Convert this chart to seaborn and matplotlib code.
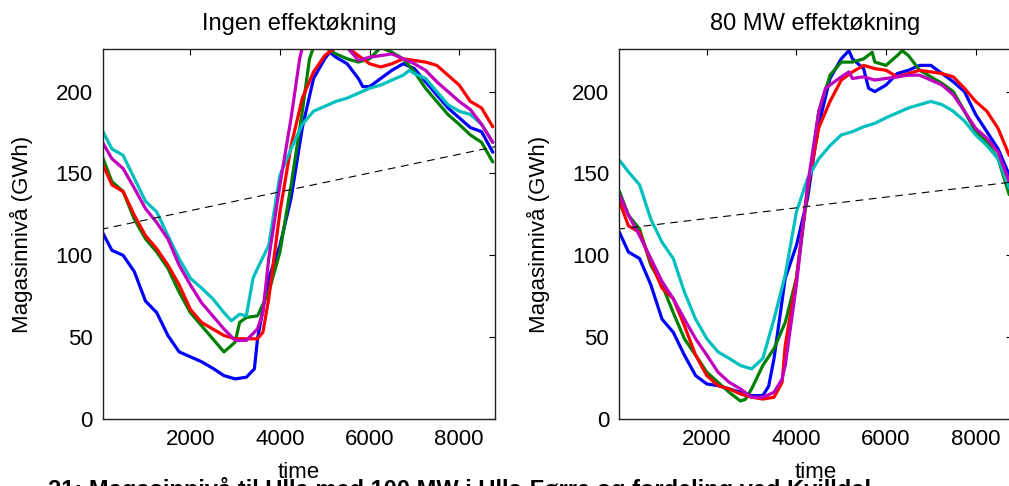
import matplotlib
matplotlib.use("Agg")
import matplotlib.pyplot as plt
import seaborn as sns
import numpy as np
import pandas as pd

# ---------------- data ----------------
titles = ["Ingen effektøkning", "80 MW effektøkning"]
xticks = [2000, 4000, 6000, 8000]
yticks = [0, 50, 100, 150, 200]
series_names = ["blue", "green", "red", "cyan", "magenta"]
series_colors = [(0, 0, 1), (0, 0.5, 0), (1, 0, 0), (0, 0.75, 0.75), (0.75, 0, 0.75)]

# Left panel: Ingen effektøkning
L_blue_t = [40, 250, 500, 750, 1000, 1250, 1500, 1750, 2000, 2250, 2500, 2750, 3000, 3250, 3430, 3500, 3750, 4000, 4250, 4500, 4750, 5000, 5110, 5250, 5500, 5750, 5850, 6000, 6250, 6500, 6750, 7000, 7250, 7500, 7750, 8000, 8250, 8500, 8750]
L_blue_v = [114, 103, 100, 90, 72, 65, 51, 41, 38, 35, 31, 26.5, 24.5, 25.5, 30.6, 49, 86, 106, 135, 178, 208, 220, 224, 221, 217, 208, 203, 203, 208, 213, 217, 214, 206, 198, 190, 184, 178, 175.5, 163]

L_green_t = [40, 250, 500, 750, 1000, 1250, 1500, 1750, 2000, 2250, 2500, 2750, 2880, 3000, 3100, 3250, 3500, 3750, 4000, 4250, 4500, 4660, 4750, 5000, 5250, 5500, 5750, 6000, 6250, 6500, 6750, 7000, 7250, 7500, 7750, 8000, 8250, 8500, 8750]
L_green_v = [160, 145, 139, 122, 110, 102, 92, 77.5, 65, 57, 49, 41, 44, 47, 59, 62, 63, 77.5, 102, 143, 188, 220, 227, 227, 223, 220, 218, 220, 227, 224, 220, 212, 202, 194, 186, 180, 173.5, 169, 157]

L_red_t = [40, 250, 500, 750, 1000, 1250, 1500, 1750, 2000, 2250, 2500, 2750, 3000, 3250, 3500, 3620, 3750, 4000, 4250, 4500, 4750, 5000, 5250, 5500, 5750, 6000, 6250, 6500, 6750, 7000, 7250, 7500, 7750, 8000, 8250, 8500, 8750]
L_red_v = [156, 143, 139, 124.5, 112, 104, 94, 82, 67, 59, 55, 51, 49, 49, 49, 53, 73.5, 126.5, 167, 196, 212, 222, 227, 227, 222, 217, 215, 217, 220, 219, 218, 216, 210, 204, 194, 190, 178.5]

L_cyan_t = [40, 250, 500, 750, 1000, 1250, 1500, 1750, 2000, 2250, 2500, 2750, 2915, 3100, 3250, 3400, 3500, 3750, 4000, 4250, 4500, 4750, 5000, 5250, 5500, 5750, 6000, 6250, 6500, 6750, 6890, 7000, 7250, 7500, 7750, 8000, 8250, 8500, 8750]
L_cyan_v = [176, 165, 161, 147, 133, 126.5, 112, 98, 86, 80, 73.5, 65, 60, 64, 63, 86, 92, 106, 149, 165, 180, 188, 191, 194, 196, 199, 202, 204, 207, 210, 213, 211, 208, 200, 192, 188, 186, 180, 169]

L_mag_t = [40, 250, 500, 750, 1000, 1250, 1500, 1750, 2000, 2250, 2500, 2750, 3000, 3250, 3500, 3620, 3750, 4000, 4250, 4440, 4500, 4750, 5000, 5250, 5500, 5750, 6000, 6250, 6500, 6750, 7000, 7250, 7500, 7750, 8000, 8250, 8500, 8750]
L_mag_v = [169, 159, 153, 141, 128.5, 120, 110, 94, 82, 71, 63, 55, 48, 48, 55, 65, 98, 143, 184, 220, 227, 227, 227, 227, 227, 219, 221, 222, 223, 220, 217, 213, 206, 200, 194, 189, 180, 169]

# Right panel: 80 MW effektøkning
R_blue_t = [50, 250, 500, 750, 1000, 1250, 1500, 1750, 2000, 2250, 2500, 2750, 3000, 3250, 3380, 3500, 3750, 4000, 4250, 4420, 4500, 4750, 5000, 5170, 5250, 5500, 5610, 5750, 6000, 6250, 6500, 6750, 7000, 7250, 7500, 7750, 8000, 8250, 8500, 8750]
R_blue_v = [114, 102, 98, 82, 61, 53, 39, 26.5, 21.4, 20.4, 18.4, 16.3, 14.3, 14.3, 20, 37, 86, 106, 135, 167, 180, 208, 220, 225, 220, 214, 202, 200, 204, 211, 213, 216, 216, 211, 206, 200, 186, 175.5, 165, 149]

R_green_t = [50, 250, 500, 750, 1000, 1250, 1500, 1750, 2000, 2250, 2500, 2750, 2860, 3000, 3250, 3500, 3750, 4000, 4250, 4500, 4750, 5000, 5250, 5500, 5690, 5750, 6000, 6250, 6360, 6500, 6750, 7000, 7250, 7500, 7750, 8000, 8250, 8500, 8750]
R_green_v = [139, 124.5, 116, 94, 82, 65, 49, 39, 28.6, 22.4, 16.3, 11, 12, 18.4, 32.7, 43, 59, 86, 139, 188, 210, 218, 218, 220, 224, 218, 216, 222, 225, 222, 213, 209, 205, 200, 188, 175.5, 169, 159, 137]

R_red_t = [50, 250, 500, 750, 1000, 1250, 1500, 1750, 2000, 2250, 2500, 2750, 3000, 3250, 3500, 3680, 3750, 4000, 4250, 4500, 4750, 5000, 5250, 5500, 5750, 6000, 6250, 6500, 6750, 7000, 7250, 7500, 7750, 8000, 8250, 8500, 8750]
R_red_v = [133, 118, 114, 96, 80, 73.5, 57, 39, 26.5, 20.4, 18.4, 15.3, 13.3, 12.2, 13.3, 22.4, 45, 86, 141, 178, 194, 207, 212, 216, 214, 213, 209, 211, 213, 212, 211, 209, 202, 194, 188, 177.5, 161]

R_cyan_t = [50, 250, 500, 750, 1000, 1250, 1500, 1750, 2000, 2250, 2500, 2750, 3000, 3250, 3500, 3750, 4000, 4250, 4500, 4750, 5000, 5250, 5500, 5750, 6000, 6250, 6500, 6750, 7000, 7250, 7500, 7750, 8000, 8250, 8500, 8750]
R_cyan_v = [158, 151, 143, 122, 108, 98, 77.5, 61, 49, 41, 37, 32.7, 30.6, 37, 61, 88, 126.5, 147, 159, 167, 173.5, 175.5, 178.5, 180.6, 184, 187, 190, 192, 194, 192, 188, 182, 173.5, 167, 159, 141]

R_mag_t = [50, 250, 500, 750, 1000, 1250, 1500, 1750, 2000, 2250, 2500, 2750, 3000, 3250, 3500, 3680, 3750, 4000, 4250, 4500, 4650, 4750, 5000, 5170, 5250, 5500, 5750, 6000, 6250, 6500, 6750, 7000, 7250, 7500, 7750, 8000, 8250, 8500, 8750]
R_mag_v = [137, 124.5, 112, 98, 84, 73.5, 61, 49, 39, 28.6, 22.4, 18.4, 13.3, 13.3, 16.3, 24.5, 32.7, 82, 143, 188, 202, 204, 209, 212, 208, 209, 207, 208, 209, 210, 210, 207, 204, 198, 188, 177.5, 171.5, 163, 145]

# Dashed reference lines (endpoints)
ref_t = [0, 8800]
L_ref_v = [115.8, 166.3]
R_ref_v = [115.9, 144.7]

caption = "21: Magasinnivå til Ulla med 100 MW i Ulla-Førre og fordeling ved Kvilldal"

# ---------------- plotting ----------------
sns.set_style("white")
plt.rcParams["font.family"] = ["Liberation Sans", "DejaVu Sans"]
plt.rcParams["text.color"] = "black"
plt.rcParams["axes.labelcolor"] = "black"
plt.rcParams["axes.titlecolor"] = "black"

fig = plt.figure(figsize=(10.09, 4.86), dpi=100)
W, H = 1009.0, 486.0
ax_left = fig.add_axes([102.5 / W, (H - 419) / H, 392.5 / W, 370 / H])
ax_right = fig.add_axes([619 / W, (H - 419) / H, 392.5 / W, 370 / H])

panels = [
    (ax_left, [(L_blue_t, L_blue_v), (L_green_t, L_green_v), (L_red_t, L_red_v),
               (L_cyan_t, L_cyan_v), (L_mag_t, L_mag_v)], L_ref_v),
    (ax_right, [(R_blue_t, R_blue_v), (R_green_t, R_green_v), (R_red_t, R_red_v),
                (R_cyan_t, R_cyan_v), (R_mag_t, R_mag_v)], R_ref_v),
]

for (ax, series, refv), title in zip(panels, titles):
    for (t, v), name, col in zip(series, series_names, series_colors):
        df = pd.DataFrame({"time": t, "val": v})
        sns.lineplot(data=df, x="time", y="val", ax=ax, color=col, linewidth=2.3,
                     estimator=None, sort=False)
    dref = pd.DataFrame({"time": ref_t, "val": refv})
    sns.lineplot(data=dref, x="time", y="val", ax=ax, color="black", linewidth=0.8,
                 linestyle=(0, (7, 5)), estimator=None, sort=False)
    ax.set_xlim(40, 8800)
    ax.set_ylim(0, 226)
    ax.set_xticks(xticks)
    ax.set_yticks(yticks)
    ax.tick_params(direction="in", length=4, width=0.8, top=True, right=True,
                   labelsize=16, colors="black", pad=7)
    for s in ax.spines.values():
        s.set_color("#222222")
        s.set_linewidth(1.0)
    ax.set_title(title, fontsize=17, pad=14, color="black")
    ax.set_xlabel("time", fontsize=16, labelpad=9, color="black")
    ax.set_ylabel("Magasinnivå (GWh)", fontsize=16, labelpad=16, color="black")

fig.text(48 / W, (H - 477) / H, caption, fontsize=17, fontweight="bold",
         ha="left", va="top", color="black")

fig.savefig("out.png", dpi=100)
